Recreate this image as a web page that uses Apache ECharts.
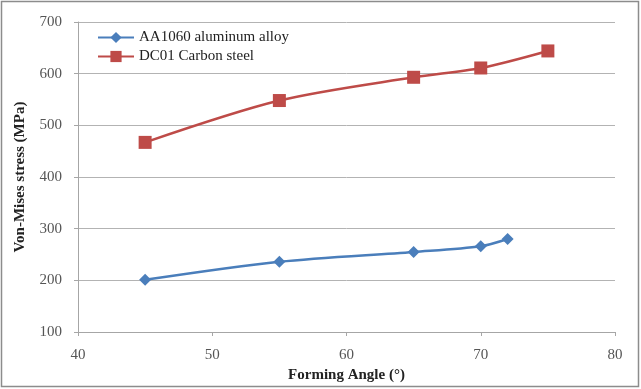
<!DOCTYPE html>
<html><head><meta charset="utf-8">
<script src="https://cdn.jsdelivr.net/npm/echarts@6/dist/echarts.min.js"></script>
<style>html,body{margin:0;padding:0;background:#fff}#c{width:641px;height:389px}</style>
</head><body><div id="c"></div>
<script>
const alAngles = [45, 55, 65, 70, 72];
const alStress = [201, 236, 255, 266, 280];
const stAngles = [45, 55, 65, 70, 75];
const stStress = [467, 548, 593, 611, 644];
const seriesNames = ['AA1060 aluminum alloy', 'DC01 Carbon steel'];
const xTitle = 'Forming Angle (°)';
const yTitle = 'Von-Mises stress (MPa)';

const chart = echarts.init(document.getElementById('c'));
const font = '"Liberation Serif", "Times New Roman", serif';
chart.setOption({
  animation: false,
  textStyle: {fontFamily: font},
  graphic: [{type: 'rect', shape: {x: 1.5, y: 1.5, width: 637, height: 385}, style: {fill: 'none', stroke: '#8c8c8c', lineWidth: 1.5}}],
  grid: {left: 78, right: 26, top: 22, bottom: 57},
  legend: {
    orient: 'vertical', left: 92, top: 25, itemGap: 4, itemWidth: 36, itemHeight: 14,
    textStyle: {fontFamily: font, fontSize: 15, color: '#222'},
    data: seriesNames
  },
  xAxis: {
    type: 'value', min: 40, max: 80, interval: 10,
    name: xTitle, nameLocation: 'middle', nameGap: 36,
    nameTextStyle: {fontFamily: font, fontWeight: 'bold', fontSize: 15, color: '#222'},
    axisLine: {lineStyle: {color: '#a6a6a6'}},
    axisTick: {show: true, length: 4, lineStyle: {color: '#a6a6a6'}},
    axisLabel: {fontFamily: font, fontSize: 15, color: '#555', margin: 16},
    splitLine: {show: false}
  },
  yAxis: {
    type: 'value', min: 100, max: 700, interval: 100,
    name: yTitle, nameLocation: 'middle', nameGap: 50,
    nameTextStyle: {fontFamily: font, fontWeight: 'bold', fontSize: 15, color: '#222'},
    axisLine: {show: true, lineStyle: {color: '#a6a6a6'}},
    axisTick: {show: true, length: 4, lineStyle: {color: '#a6a6a6'}},
    axisLabel: {fontFamily: font, fontSize: 15, color: '#555', margin: 16},
    splitLine: {lineStyle: {color: '#b3b3b3'}}
  },
  series: [
    {name: seriesNames[0], type: 'line', smooth: 0.3, symbol: 'diamond', symbolSize: 12,
     lineStyle: {color: '#4a7ebb', width: 2.5}, itemStyle: {color: '#4a7ebb'},
     data: alAngles.map((a, i) => [a, alStress[i]])},
    {name: seriesNames[1], type: 'line', smooth: 0.3, symbol: 'rect', symbolSize: 13,
     lineStyle: {color: '#be4b48', width: 2.5}, itemStyle: {color: '#be4b48'},
     data: stAngles.map((a, i) => [a, stStress[i]])}
  ]
});
</script></body></html>
